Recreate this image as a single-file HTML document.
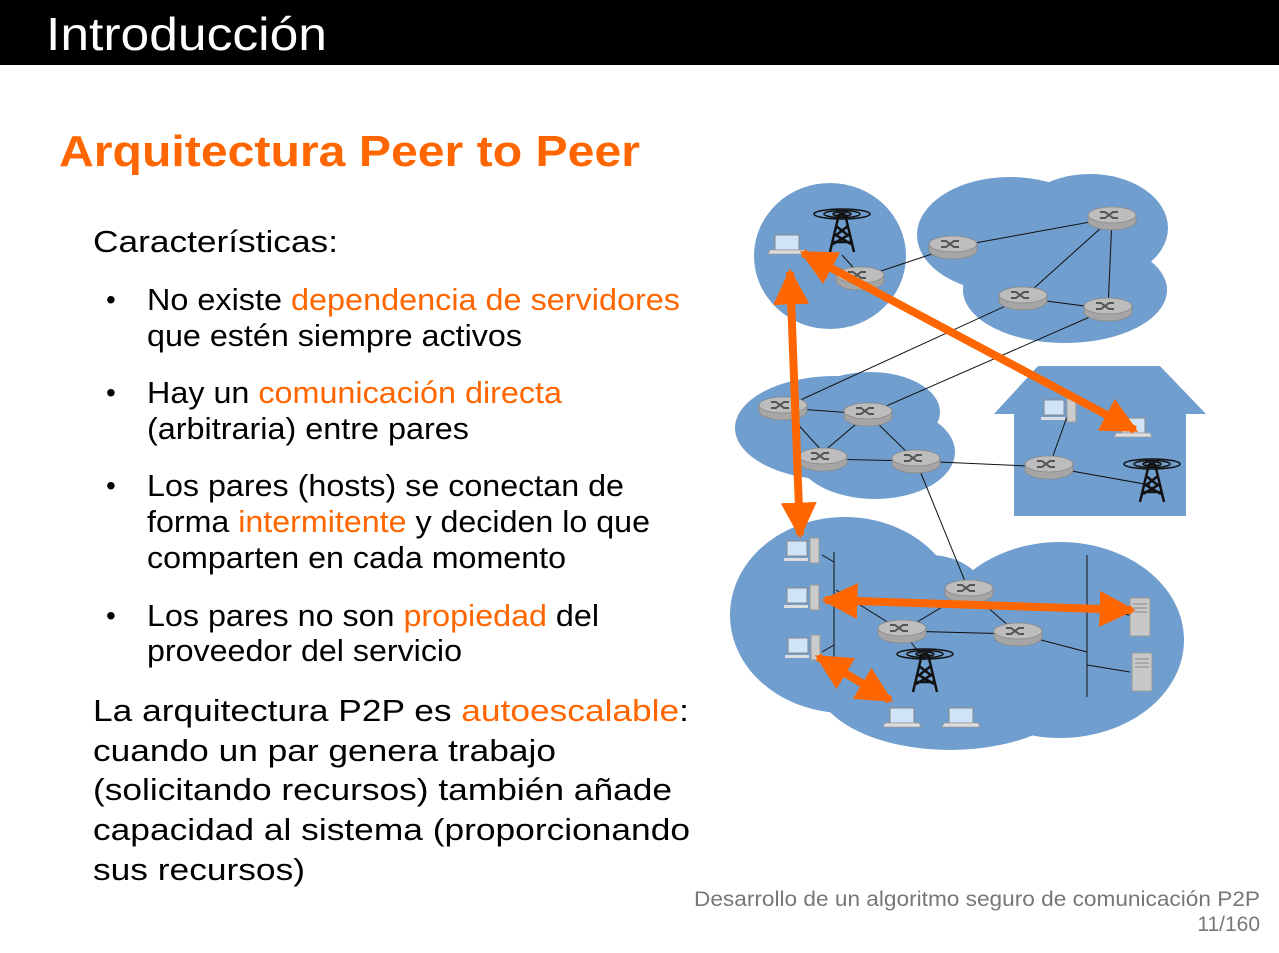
<!DOCTYPE html>
<html><head><meta charset="utf-8"><style>
html,body{margin:0;padding:0;background:#fff;}
svg{display:block;font-family:"Liberation Sans",sans-serif;}
</style></head><body>
<svg width="1279" height="953" viewBox="0 0 1279 953" xmlns="http://www.w3.org/2000/svg">
<defs>
<g id="router">
<path d="M-24,0 v6 a24,9 0 0 0 48,0 v-6 z" fill="#a6a6a6" stroke="#888" stroke-width="0.8"/>
<ellipse cx="0" cy="0" rx="24" ry="8" fill="#bdbdbd" stroke="#888" stroke-width="0.8"/>
<path d="M-12,-3 h5 l8,6 h5 M-12,3 h5 l8,-6 h5" stroke="#555" stroke-width="2" fill="none"/>
</g>
<g id="laptop">
<rect x="-12" y="-12" width="24" height="15" fill="#cfe4f6" stroke="#888" stroke-width="1"/>
<path d="M-17,3 h34 l2,4 h-38 z" fill="#ddd" stroke="#999" stroke-width="0.8"/>
</g>
<g id="desk">
<rect x="-13" y="-12" width="20" height="15" fill="#cfe4f6" stroke="#888"/>
<rect x="-16" y="5" width="24" height="3" fill="#ddd"/>
<rect x="10" y="-15" width="9" height="25" fill="#ccc" stroke="#999"/>
</g>
<g id="server">
<rect x="-10" y="-19" width="20" height="38" fill="#c8c8c8" stroke="#999"/>
<path d="M-7,-13 h14 M-7,-9 h14 M-7,-5 h14" stroke="#888"/>
</g>
<g id="tower">
<ellipse cx="0" cy="-14" rx="28" ry="5" fill="none" stroke="#111" stroke-width="1.5"/>
<ellipse cx="0" cy="-14" rx="18" ry="3.5" fill="none" stroke="#111" stroke-width="1.5"/>
<ellipse cx="0" cy="-14" rx="9" ry="2" fill="none" stroke="#111" stroke-width="1.5"/>
<path d="M-3,-14 L-12,24 M3,-14 L12,24 M-3,-14 h6 M-6,-2 L7,8 M6,-2 L-7,8 M-8,6 L9,16 M8,6 L-9,16 M-10,14 h20" stroke="#111" stroke-width="2.5" fill="none"/>
</g>
<marker id="ah" viewBox="0 0 10 10" refX="9" refY="5" markerWidth="4.5" markerHeight="4.5" orient="auto-start-reverse">
<path d="M0,0 L10,5 L0,10 z" fill="#ff6600"/>
</marker>
</defs>
<rect x="0" y="0" width="1279" height="65" fill="#000"/>
<text x="46" y="50" font-size="46" fill="#fff" textLength="281" lengthAdjust="spacingAndGlyphs">Introducción</text>
<text x="59" y="166" font-size="44" font-weight="bold" fill="#ff6600" textLength="581" lengthAdjust="spacingAndGlyphs">Arquitectura Peer to Peer</text>

<g font-size="31" fill="#000">
<text x="93" y="252" textLength="245" lengthAdjust="spacingAndGlyphs">Características:</text>
<g font-size="28"><text x="106" y="309">•</text><text x="106" y="402">•</text><text x="106" y="495">•</text><text x="106" y="625">•</text></g>
<text x="147" y="310" textLength="533" lengthAdjust="spacingAndGlyphs">No existe <tspan fill="#ff6600">dependencia de servidores</tspan></text>
<text x="147" y="346" textLength="375" lengthAdjust="spacingAndGlyphs">que estén siempre activos</text>
<text x="147" y="403" textLength="415" lengthAdjust="spacingAndGlyphs">Hay un <tspan fill="#ff6600">comunicación directa</tspan></text>
<text x="147" y="439" textLength="322" lengthAdjust="spacingAndGlyphs">(arbitraria) entre pares</text>
<text x="147" y="496" textLength="477" lengthAdjust="spacingAndGlyphs">Los pares (hosts) se conectan de</text>
<text x="147" y="532" textLength="503" lengthAdjust="spacingAndGlyphs">forma <tspan fill="#ff6600">intermitente</tspan> y deciden lo que</text>
<text x="147" y="568" textLength="419" lengthAdjust="spacingAndGlyphs">comparten en cada momento</text>
<text x="147" y="626" textLength="452" lengthAdjust="spacingAndGlyphs">Los pares no son <tspan fill="#ff6600">propiedad</tspan> del</text>
<text x="147" y="661" textLength="315" lengthAdjust="spacingAndGlyphs">proveedor del servicio</text>
<text x="93" y="721" textLength="596" lengthAdjust="spacingAndGlyphs">La arquitectura P2P es <tspan fill="#ff6600">autoescalable</tspan>:</text>
<text x="93" y="761" textLength="463" lengthAdjust="spacingAndGlyphs">cuando un par genera trabajo</text>
<text x="93" y="800" textLength="579" lengthAdjust="spacingAndGlyphs">(solicitando recursos) también añade</text>
<text x="93" y="840" textLength="597" lengthAdjust="spacingAndGlyphs">capacidad al sistema (proporcionando</text>
<text x="93" y="880" textLength="212" lengthAdjust="spacingAndGlyphs">sus recursos)</text>
</g>
<text x="1260" y="906" font-size="21" fill="#777" text-anchor="end" textLength="566" lengthAdjust="spacingAndGlyphs">Desarrollo de un algoritmo seguro de comunicación P2P</text>
<text x="1260" y="931" font-size="21" fill="#777" text-anchor="end">11/160</text>

<!-- clouds -->
<g fill="#709ece">
<ellipse cx="830" cy="256" rx="76" ry="73"/>
<ellipse cx="1010" cy="235" rx="93" ry="58"/>
<ellipse cx="1090" cy="228" rx="78" ry="54"/>
<ellipse cx="1065" cy="290" rx="102" ry="53"/>
<ellipse cx="835" cy="428" rx="100" ry="52"/>
<ellipse cx="875" cy="452" rx="80" ry="47"/>
<ellipse cx="870" cy="412" rx="70" ry="40"/>
<rect x="1014" y="400" width="172" height="116"/>
<polygon points="994,414 1038,366 1160,366 1206,414"/>
<ellipse cx="845" cy="615" rx="115" ry="98"/>
<ellipse cx="1060" cy="640" rx="124" ry="98"/>
<ellipse cx="950" cy="680" rx="135" ry="70"/>
<ellipse cx="930" cy="605" rx="60" ry="50"/>
</g>
<!-- links -->
<g stroke="#111" stroke-width="1" fill="none">
<path d="M860,278 L953,247 L1112,218 L1023,298 L1108,309 L1112,218"/>
<path d="M1023,298 L783,408 L868,414 L1108,309"/>
<path d="M783,408 L823,452 L868,414 M823,459 L916,461 L868,414 M916,461 L1049,467 L1068,414 M1049,467 L1150,485"/>
<path d="M916,461 L969,591 L902,631 L1018,634 L969,591 M902,631 L836,590 M1018,634 L1087,652 M902,631 L925,660 M842,255 L860,275"/>
<path d="M834,552 V660 M822,555 L834,562 M822,600 L834,600 M822,652 L834,645 M1087,555 V697 M1087,610 L1130,615 M1087,665 L1130,672"/>
</g>
<use href="#router" x="860" y="275"/>
<use href="#router" x="953" y="244"/>
<use href="#router" x="1112" y="215"/>
<use href="#router" x="1023" y="295"/>
<use href="#router" x="1108" y="306"/>
<use href="#router" x="783" y="405"/>
<use href="#router" x="868" y="411"/>
<use href="#router" x="823" y="456"/>
<use href="#router" x="916" y="458"/>
<use href="#router" x="1049" y="464"/>
<use href="#router" x="969" y="588"/>
<use href="#router" x="902" y="628"/>
<use href="#router" x="1018" y="631"/>
<use href="#tower" x="842" y="228"/>
<use href="#tower" x="1152" y="478"/>
<use href="#tower" x="925" y="668"/>
<use href="#laptop" x="787" y="247"/>
<use href="#laptop" x="1133" y="430"/>
<use href="#laptop" x="902" y="720"/>
<use href="#laptop" x="961" y="720"/>
<use href="#desk" x="800" y="553"/>
<use href="#desk" x="800" y="600"/>
<use href="#desk" x="801" y="650"/>
<use href="#desk" x="1057" y="412"/>
<use href="#server" x="1140" y="617"/>
<use href="#server" x="1142" y="672"/>
<!-- arrows -->
<g stroke="#ff6600" stroke-width="8" fill="none" marker-start="url(#ah)" marker-end="url(#ah)">
<line x1="803" y1="253" x2="1135" y2="430"/>
<line x1="790" y1="272" x2="800" y2="535"/>
<line x1="825" y1="600" x2="1132" y2="610"/>
<line x1="818" y1="657" x2="890" y2="700"/>
</g>
</svg>
</body></html>
